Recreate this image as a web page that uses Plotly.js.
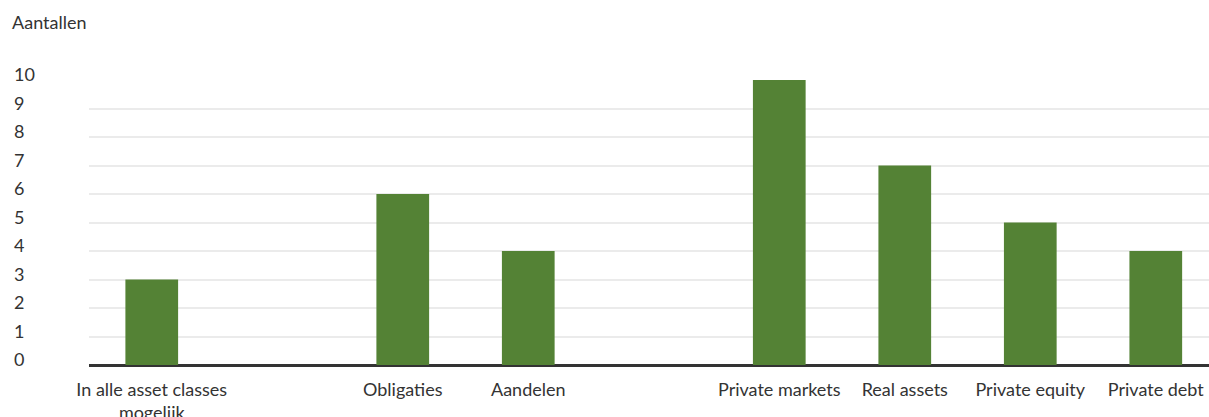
<!DOCTYPE html>
<html>
<head>
<meta charset="utf-8">
<script src="https://cdn.plot.ly/plotly-3.0.1.min.js"></script>
<style>html,body{margin:0;padding:0;background:#fff;}#chart{width:1209px;height:417px;}</style>
</head>
<body>
<div id="chart"></div>
<script>
// Data (gap slots are empty categories that separate the groups)
var categories = ["In alle asset classes mogelijk", "gap1", "Obligaties", "Aandelen", "gap2", "Private markets", "Real assets", "Private equity", "Private debt"];
var tickLabels = ["In alle asset classes<br>mogelijk", "", "Obligaties", "Aandelen", "", "Private markets", "Real assets", "Private equity", "Private debt"];
var values = [3, null, 6, 4, null, 10, 7, 5, 4];
var yTicks = [0, 1, 2, 3, 4, 5, 6, 7, 8, 9, 10];
var yTitle = "Aantallen";

var FONT = "Lato, 'Open Sans', sans-serif";
var TXT = "#333333";
var FS = 18;

var trace = {
  type: "bar",
  x: categories,
  y: values,
  width: 0.42,
  marker: {color: "#548235"},
  hoverinfo: "x+y"
};

var annotations = yTicks.map(function (t) {
  return {
    xref: "paper", yref: "y",
    x: -77 / 1120, y: t,
    xanchor: "left", yanchor: "middle",
    yshift: 6,
    text: String(t),
    showarrow: false,
    font: {family: FONT, size: FS, color: TXT}
  };
});

var layout = {
  width: 1209, height: 417,
  margin: {l: 89, r: 0, t: 80, b: 52, pad: 0},
  paper_bgcolor: "#ffffff",
  plot_bgcolor: "#ffffff",
  showlegend: false,
  title: {
    text: yTitle,
    xref: "container", yref: "container",
    x: 12 / 1209, xanchor: "left",
    y: 1 - 23 / 417, yanchor: "middle",
    font: {family: FONT, size: FS, color: TXT}
  },
  xaxis: {
    type: "category",
    categoryorder: "array",
    categoryarray: categories,
    tickvals: categories,
    ticktext: tickLabels,
    range: [-0.5, 8.424],
    showgrid: false,
    showline: false,
    zeroline: false,
    ticks: "",
    ticklabelstandoff: 12,
    tickfont: {family: FONT, size: FS, color: TXT},
    fixedrange: true
  },
  yaxis: {
    range: [0, 10],
    tickvals: yTicks,
    showticklabels: false,
    showgrid: true,
    gridcolor: "#ebebeb",
    gridwidth: 2,
    zeroline: true,
    zerolinecolor: "#333333",
    zerolinewidth: 3,
    showline: false,
    ticks: "",
    fixedrange: true
  },
  annotations: annotations
};

Plotly.newPlot("chart", [trace], layout, {displayModeBar: false, staticPlot: true});
</script>
</body>
</html>
